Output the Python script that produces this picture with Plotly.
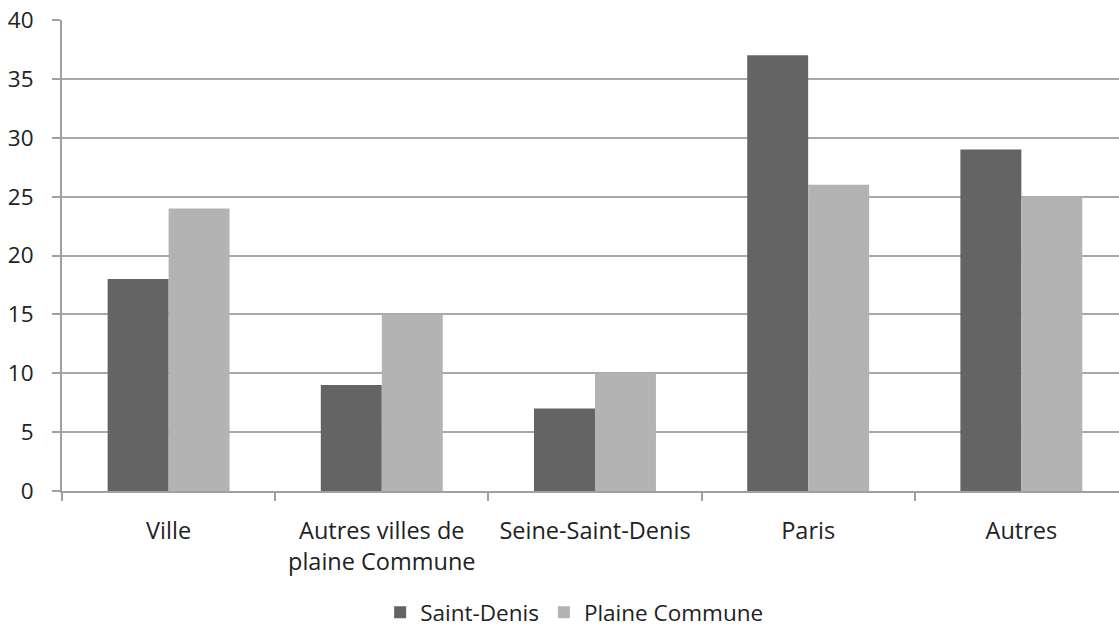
import plotly.graph_objects as go

categories = ["Ville", "Autres villes de<br>plaine Commune", "Seine-Saint-Denis", "Paris", "Autres"]
saint_denis = [18, 9, 7, 37, 29]
plaine_commune = [24, 15, 10, 26, 25]
series_names = ["Saint-Denis", "Plaine Commune"]
y_ticks = [0, 5, 10, 15, 20, 25, 30, 35, 40]

fig = go.Figure()
fig.add_trace(go.Bar(x=categories, y=saint_denis, name=series_names[0],
                     marker=dict(color="#646464", line=dict(width=0))))
fig.add_trace(go.Bar(x=categories, y=plaine_commune, name=series_names[1],
                     marker=dict(color="#b3b3b3", line=dict(width=0))))

font = "Open Sans, Liberation Sans, sans-serif"
fs = 22.5
fig.update_layout(
    width=1119, height=630,
    margin=dict(l=62, r=0, t=20, b=139, pad=0, autoexpand=False),
    paper_bgcolor="white", plot_bgcolor="white",
    barmode="group", bargap=0.428, bargroupgap=0,
    font=dict(family=font, size=fs, color="#222222"),
    showlegend=True,
    legend=dict(orientation="h", x=0.485, xanchor="center", y=-0.258, yanchor="middle",
                font=dict(size=22.5, family=font, color="#222222"), traceorder="normal"),
)
fig.update_xaxes(
    type="category", range=[-0.5, 4.458], automargin=False,
    showgrid=False, showline=True, linecolor="#a0a0a0", linewidth=2,
    ticks="outside", tickson="boundaries", ticklen=8, tickcolor="#a0a0a0", tickwidth=1.5,
    ticklabelstandoff=18,
    tickfont=dict(size=23.5, family=font, color="#222222"),
)
fig.update_yaxes(
    range=[0, 40], tickvals=y_ticks, automargin=False,
    showgrid=True, gridcolor="#a8a8a8", gridwidth=2,
    showline=True, linecolor="#a0a0a0", linewidth=2,
    ticks="outside", ticklen=8, tickcolor="#a0a0a0", tickwidth=2,
    ticklabelstandoff=14, ticklabeloverflow="allow",
    tickfont=dict(size=fs, family=font, color="#222222"),
    zeroline=False,
)

fig.write_html("out.html", config={"displayModeBar": False},
               post_script="document.body.style.margin='0';document.body.style.overflow='hidden';")
